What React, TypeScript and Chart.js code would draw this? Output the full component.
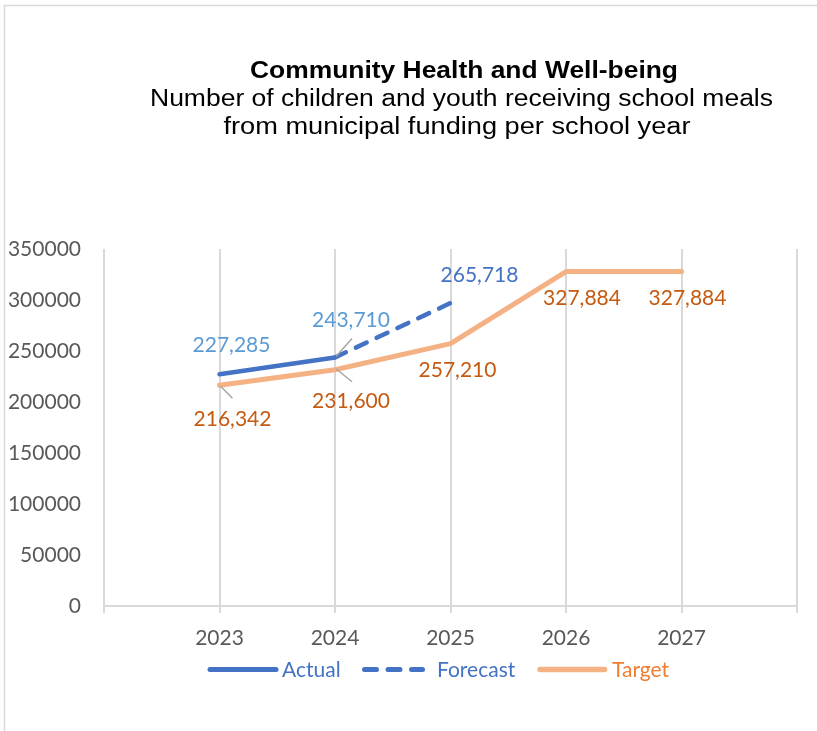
import React, { useEffect, useRef } from 'react';
import { Chart, registerables } from 'chart.js';

Chart.register(...registerables);

// ---------- data ----------
const years = [2023, 2024, 2025, 2026, 2027];
const actualValues: (number | null)[] = [227285, 243710, null, null, null];
const forecastValues: (number | null)[] = [null, 243710, 297000, null, null];
const targetValues: (number | null)[] = [216342, 231600, 257210, 327884, 327884];
const actualLabels: (string | null)[] = ['227,285', '243,710', null, null, null];
const forecastLabels: (string | null)[] = [null, null, '265,718', null, null];
const targetLabels: (string | null)[] = ['216,342', '231,600', '257,210', '327,884', '327,884'];
const yMin = 0;
const yMax = 350000;
const yStep = 50000;
const titleText = 'Community Health and Well-being';
const subtitleLines = [
  'Number of children and youth receiving school meals',
  'from municipal funding per school year',
];
const legendNames = ['Actual', 'Forecast', 'Target'];

// ---------- styles ----------
const BLUE = '#4472C4';
const LIGHT_BLUE = '#5B9BD5';
const ORANGE_LINE = '#F4B183';
const ORANGE_TEXT = '#C55A11';
const ORANGE_LEGEND = '#ED7D31';
const GRID = '#D9D9D9';
const AXIS_TEXT = '#595959';
const LABEL_FONT = '21px Lato';

// label placement (offsets from point, in px), leader: [x1,y1,x2,y2] offsets
type Place = { dx: number; dy: number; leader?: number[] } | null;
const placements: Record<string, Place[]> = {
  Actual: [{ dx: 12, dy: -29 }, { dx: 16, dy: -37, leader: [1, -1, 17, -19] }, null, null, null],
  Forecast: [null, null, { dx: 29, dy: -28 }, null, null],
  Target: [
    { dx: 13, dy: 34, leader: [1, 1, 13, 13] },
    { dx: 16, dy: 31, leader: [1, -1, 17, 12] },
    { dx: 7, dy: 27 },
    { dx: 16, dy: 27 },
    { dx: 6, dy: 27 },
  ],
};

function drawFitted(ctx: CanvasRenderingContext2D, text: string, cx: number, baseline: number, width: number, font: string) {
  ctx.save();
  ctx.font = font;
  const w = ctx.measureText(text).width;
  ctx.translate(cx, baseline);
  ctx.scale(width / w, 1);
  ctx.textAlign = 'center';
  ctx.textBaseline = 'alphabetic';
  ctx.fillStyle = '#000';
  ctx.fillText(text, 0, 0);
  ctx.restore();
}

const decorPlugin = {
  id: 'decor',
  beforeDraw(chart: any) {
    const ctx: CanvasRenderingContext2D = chart.ctx;
    ctx.save();
    ctx.fillStyle = '#fff';
    ctx.fillRect(0, 0, chart.width, chart.height);
    // frame
    ctx.strokeStyle = GRID;
    ctx.lineWidth = 1.5;
    ctx.beginPath();
    ctx.moveTo(4.5, chart.height + 10);
    ctx.lineTo(4.5, 5.5);
    ctx.lineTo(chart.width + 10, 5.5);
    ctx.stroke();
    ctx.restore();
  },
  afterDraw(chart: any) {
    const ctx: CanvasRenderingContext2D = chart.ctx;
    // titles
    drawFitted(ctx, titleText, 464, 78, 428, 'bold 23px "Liberation Sans"');
    drawFitted(ctx, subtitleLines[0], 461.5, 106, 623, '23px "Liberation Sans"');
    drawFitted(ctx, subtitleLines[1], 457, 134, 467, '23px "Liberation Sans"');

    // legend
    const y = 669.5;
    ctx.save();
    ctx.lineCap = 'round';
    ctx.lineWidth = 5;
    ctx.strokeStyle = BLUE;
    ctx.beginPath();
    ctx.moveTo(210, y);
    ctx.lineTo(276, y);
    ctx.stroke();
    ctx.setLineDash([12, 11.5]);
    ctx.beginPath();
    ctx.moveTo(364.5, y);
    ctx.lineTo(422.5, y);
    ctx.stroke();
    ctx.setLineDash([]);
    ctx.strokeStyle = ORANGE_LINE;
    ctx.lineWidth = 5.5;
    ctx.beginPath();
    ctx.moveTo(540, y);
    ctx.lineTo(604.5, y);
    ctx.stroke();
    ctx.font = LABEL_FONT;
    ctx.textAlign = 'left';
    ctx.textBaseline = 'alphabetic';
    ctx.fillStyle = BLUE;
    ctx.fillText(legendNames[0], 282, 677);
    ctx.fillText(legendNames[1], 437, 677);
    ctx.fillStyle = ORANGE_LEGEND;
    ctx.fillText(legendNames[2], 612, 677);
    ctx.restore();
  },
};

const labelPlugin = {
  id: 'pointLabels',
  afterDatasetsDraw(chart: any) {
    const ctx: CanvasRenderingContext2D = chart.ctx;
    ctx.save();
    ctx.font = LABEL_FONT;
    ctx.textAlign = 'center';
    ctx.textBaseline = 'middle';
    chart.data.datasets.forEach((ds: any, di: number) => {
      const meta = chart.getDatasetMeta(di);
      const places = placements[ds.label] || [];
      (ds.labelTexts as (string | null)[]).forEach((txt, i) => {
        const p = places[i];
        if (!txt || !p) return;
        const el = meta.data[i];
        if (!el) return;
        const px = el.x;
        const py = el.y;
        if (p.leader) {
          ctx.strokeStyle = '#A6A6A6';
          ctx.lineWidth = 1.5;
          ctx.beginPath();
          ctx.moveTo(px + p.leader[0], py + p.leader[1]);
          ctx.lineTo(px + p.leader[2], py + p.leader[3]);
          ctx.stroke();
        }
        ctx.fillStyle = ds.labelColor;
        ctx.fillText(txt, px + p.dx, py + p.dy);
      });
    });
    ctx.restore();
  },
};

export default function App() {
  const ref = useRef<HTMLCanvasElement>(null);
  useEffect(() => {
    const canvas = ref.current!;
    const mk = (vals: (number | null)[]) => years.map((x, i) => ({ x, y: vals[i] }));
    const chart = new Chart(canvas, {
      type: 'line',
      data: {
        datasets: [
          {
            label: 'Actual',
            data: mk(actualValues),
            borderColor: BLUE,
            backgroundColor: BLUE,
            borderWidth: 4.5,
            pointRadius: 0,
            borderCapStyle: 'round',
            borderJoinStyle: 'round',
            order: 1,
            labelTexts: actualLabels,
            labelColor: LIGHT_BLUE,
          } as any,
          {
            label: 'Forecast',
            data: mk(forecastValues),
            borderColor: BLUE,
            backgroundColor: BLUE,
            borderWidth: 4.5,
            borderDash: [12, 11],
            pointRadius: 0,
            borderCapStyle: 'round',
            borderJoinStyle: 'round',
            order: 2,
            labelTexts: forecastLabels,
            labelColor: BLUE,
          } as any,
          {
            label: 'Target',
            data: mk(targetValues),
            borderColor: ORANGE_LINE,
            backgroundColor: ORANGE_LINE,
            borderWidth: 5,
            pointRadius: 0,
            borderCapStyle: 'round',
            borderJoinStyle: 'round',
            order: 3,
            labelTexts: targetLabels,
            labelColor: ORANGE_TEXT,
          } as any,
        ],
      },
      options: {
        responsive: false,
        animation: false,
        devicePixelRatio: 1,
        layout: { padding: { top: 249, right: 20, left: 0, bottom: 0 } },
        plugins: {
          legend: { display: false },
          title: { display: false },
          tooltip: { enabled: false },
        },
        scales: {
          x: {
            type: 'linear',
            min: years[0] - 1,
            max: years[years.length - 1] + 1,
            ticks: {
              stepSize: 1,
              autoSkip: false,
              maxRotation: 0,
              padding: 13,
              color: AXIS_TEXT,
              font: { family: 'Lato', size: 21 },
              callback: (v: any) => (years.includes(Number(v)) ? String(v) : ''),
            },
            grid: { color: GRID, lineWidth: 2, tickLength: 7, drawTicks: true },
            border: { color: GRID, width: 2 },
            afterFit: (s: any) => {
              s.height = 125;
            },
          },
          y: {
            type: 'linear',
            min: yMin,
            max: yMax,
            ticks: {
              stepSize: yStep,
              padding: 15,
              color: AXIS_TEXT,
              font: { family: 'Lato', size: 21 },
              callback: (v: any) => String(v),
            },
            grid: { display: false },
            border: { display: false },
            afterFit: (s: any) => {
              s.width = 104;
            },
          },
        },
      } as any,
      plugins: [decorPlugin, labelPlugin],
    });
    return () => chart.destroy();
  }, []);
  return (
    <div style={{ position: 'absolute', left: 0, top: 0, width: 817, height: 731, background: '#fff' }}>
      <canvas ref={ref} width={817} height={731} style={{ display: 'block', width: 817, height: 731 }} />
    </div>
  );
}
